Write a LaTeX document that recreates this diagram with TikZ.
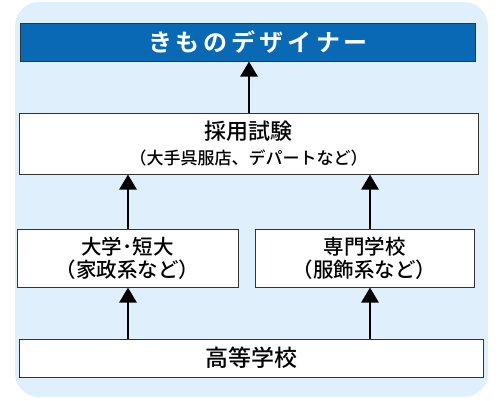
\documentclass[tikz,border=0pt]{standalone}
\usepackage{fontspec}
\setmainfont{Noto Sans CJK JP Medium}
\newfontfamily\jpbold{Noto Sans CJK JP Bold}
\usetikzlibrary{arrows.meta}
\definecolor{bgblue}{HTML}{DFF0FC}
\definecolor{titleblue}{HTML}{0A69B5}
\definecolor{edge}{HTML}{333333}
\tikzset{
  box/.style={draw=edge, line width=1pt, fill=white, inner sep=0pt, align=center},
  arr/.style={line width=2.6pt, -{Triangle[width=17pt,length=15pt]}},
}
\begin{document}
\begin{tikzpicture}[x=1pt,y=-1pt]
\useasboundingbox (0,0) rectangle (500,400);
\fill[bgblue, rounded corners=24pt] (15,2) rectangle (488,397);
\node[box, fill=titleblue, minimum width=455pt, minimum height=38pt, text=white,
      font=\jpbold\fontsize{24}{28}\selectfont] (title) at (247.5,42) {\hspace*{21pt}き\,も\,の\,デ\,ザ\,イ\,ナ\,ー};
\node[box, minimum width=459pt, minimum height=61pt,
      font=\fontsize{17}{25}\selectfont] (exam) at (248.5,143.5)
  {{\fontsize{22}{25}\selectfont 採用試験}\\（大手呉服店、デパートなど）};
\node[box, minimum width=221pt, minimum height=58pt,
      font=\fontsize{20.5}{23}\selectfont] (univ) at (127.5,258) {大学･短大\\（家政系など）};
\node[box, minimum width=219pt, minimum height=58pt,
      font=\fontsize{20.5}{23}\selectfont] (senmon) at (364.5,258) {専門学校\\（服飾系など）};
\node[box, minimum width=464pt, minimum height=38pt,
      font=\fontsize{23}{27}\selectfont] (high) at (251,358) {高等学校};
\coordinate (xa) at (249,0);
\coordinate (xl) at (128,0);
\coordinate (xr) at (370,0);
\draw[arr] (exam.north -| xa) -- (title.south -| xa);
\draw[arr] (univ.north -| xl) -- (exam.south -| xl);
\draw[arr] (senmon.north -| xr) -- (exam.south -| xr);
\draw[arr] (high.north -| xl) -- (univ.south -| xl);
\draw[arr] (high.north -| xr) -- (senmon.south -| xr);
\end{tikzpicture}
\end{document}
